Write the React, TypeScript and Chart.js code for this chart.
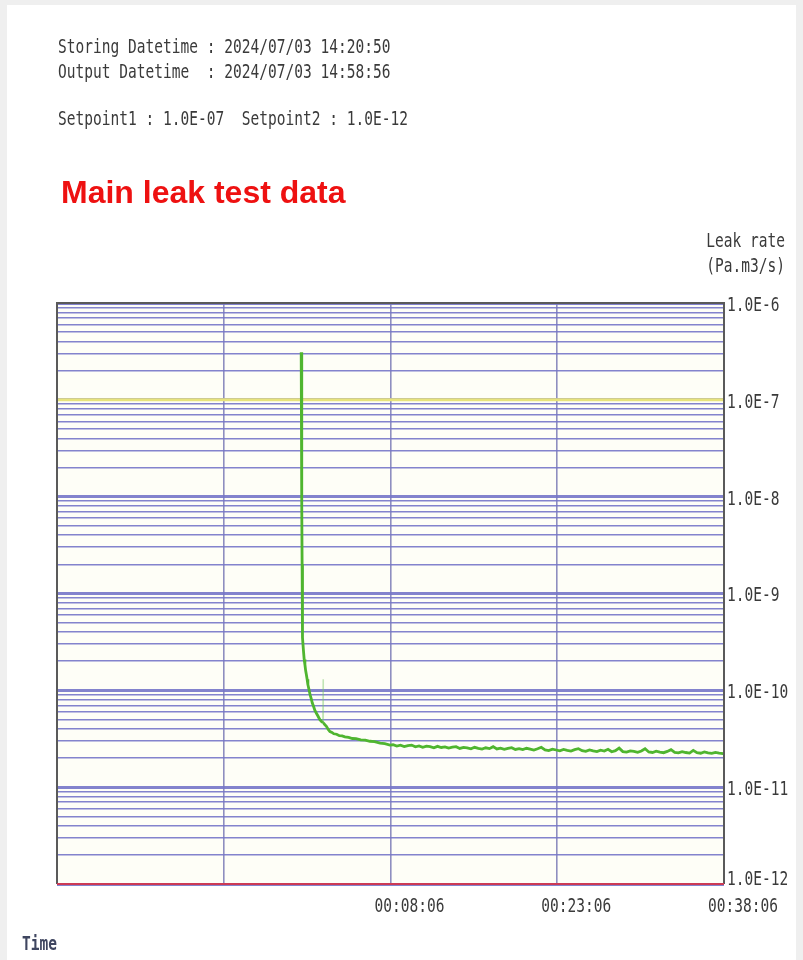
import React, { useEffect, useRef } from "react";
import { Chart, registerables } from "chart.js";

Chart.register(...registerables);

// ---- data ----
const storingDatetime = "2024/07/03 14:20:50";
const outputDatetime = "2024/07/03 14:58:56";
const setpoint1 = 1.0e-7;
const setpoint2 = 1.0e-12;
const setpointLabels = ["1.0E-07", "1.0E-12"];

// x ticks in seconds relative to record start
const xTickValues = [-1314, -414, 486, 1386, 2286];
const xTickLabels = ["", "", "00:08:06", "00:23:06", "00:38:06"];

const yDecades = [-12, -11, -10, -9, -8, -7, -6];
const yTickLabels = ["1.0E-12", "1.0E-11", "1.0E-10", "1.0E-9", "1.0E-8", "1.0E-7", "1.0E-6"];
const yMinorSignificands = [1, 2, 3, 4, 5, 6, 7, 8, 9];

const timeSec = [
  4, 6, 7, 8, 9, 10, 12, 16, 20, 24, 28, 32, 36, 40, 46, 52, 58, 64, 70, 78, 86, 95,
  104, 112, 118, 120, 122, 124, 132, 140, 150, 159, 170, 180, 195, 210, 225, 240, 260,
  280, 300, 325, 350, 375, 400, 430, 455, 483,
  500, 520, 540, 560, 580, 600, 620, 640, 660, 680, 700, 720, 740, 760, 780, 800, 820,
  840, 860, 880, 900, 920, 940, 960, 980, 1000, 1020, 1040, 1060, 1080, 1100, 1120,
  1140, 1160, 1180, 1200, 1220, 1240, 1260, 1280, 1300, 1320, 1340, 1360, 1380, 1400,
  1420, 1440, 1460, 1480, 1500, 1520, 1540, 1560, 1580, 1600, 1620, 1640, 1660, 1680,
  1700, 1720, 1740, 1760, 1780, 1800, 1820, 1840, 1860, 1880, 1900, 1920, 1940, 1960,
  1980, 2000, 2020, 2040, 2060, 2080, 2100, 2120, 2140, 2160, 2180, 2200, 2220, 2240,
  2260, 2280, 2286,
];
const leakRate = [
  3.1e-7, 1.5e-7, 4e-8, 8e-9, 2e-9, 7e-10, 3.5e-10, 2.6e-10, 2.1e-10, 1.85e-10, 1.6e-10,
  1.45e-10, 1.3e-10, 1.15e-10, 1.02e-10, 9.0e-11, 8.2e-11, 7.4e-11, 6.9e-11, 6.2e-11,
  5.8e-11, 5.4e-11, 5.0e-11, 4.8e-11, 4.7e-11, 4.8e-11, 1.3e-10, 4.6e-11, 4.4e-11,
  4.25e-11, 3.95e-11, 3.75e-11, 3.68e-11, 3.56e-11, 3.52e-11, 3.4e-11, 3.39e-11,
  3.31e-11, 3.27e-11, 3.18e-11, 3.17e-11, 3.08e-11, 3.06e-11, 2.98e-11, 2.96e-11,
  2.85e-11, 2.81e-11, 2.72e-11,
  2.74e-11, 2.66e-11, 2.71e-11, 2.63e-11, 2.69e-11, 2.72e-11, 2.61e-11, 2.67e-11,
  2.58e-11, 2.65e-11, 2.62e-11, 2.55e-11, 2.64e-11, 2.57e-11, 2.61e-11, 2.53e-11,
  2.59e-11, 2.62e-11, 2.51e-11, 2.57e-11, 2.54e-11, 2.49e-11, 2.58e-11, 2.52e-11,
  2.47e-11, 2.55e-11, 2.5e-11, 2.62e-11, 2.48e-11, 2.53e-11, 2.46e-11, 2.51e-11,
  2.56e-11, 2.45e-11, 2.5e-11, 2.44e-11, 2.52e-11, 2.47e-11, 2.42e-11, 2.49e-11,
  2.58e-11, 2.43e-11, 2.39e-11, 2.47e-11, 2.42e-11, 2.37e-11, 2.45e-11, 2.4e-11,
  2.36e-11, 2.44e-11, 2.5e-11, 2.38e-11, 2.34e-11, 2.42e-11, 2.37e-11, 2.33e-11,
  2.41e-11, 2.36e-11, 2.46e-11, 2.32e-11, 2.38e-11, 2.53e-11, 2.33e-11, 2.3e-11,
  2.37e-11, 2.34e-11, 2.29e-11, 2.36e-11, 2.49e-11, 2.31e-11, 2.28e-11, 2.35e-11,
  2.3e-11, 2.27e-11, 2.34e-11, 2.44e-11, 2.29e-11, 2.26e-11, 2.33e-11, 2.28e-11,
  2.25e-11, 2.4e-11, 2.27e-11, 2.24e-11, 2.31e-11, 2.26e-11, 2.23e-11, 2.29e-11,
  2.25e-11, 2.22e-11, 2.24e-11,
];
// index of the brief faint spike during the pump-down
const faintSpikeIndex = 26;

const MONO = "'DejaVu Sans Mono', 'Liberation Mono', monospace";
const TEXT_SIZE = 19;
const SQUEEZE = 0.765;
const TEXT_COLOR = "#3a3a3a";
const GRID_PURPLE = "rgba(118,118,200,0.9)";

function isDecade(v: number) {
  const l = Math.log10(v);
  return Math.abs(l - Math.round(l)) < 1e-6;
}

export default function App() {
  const ref = useRef<HTMLCanvasElement | null>(null);

  useEffect(() => {
    document.body.style.margin = "0";
    document.body.style.background = "#efefef";
    if (!ref.current) return;

    const yTicks: { value: number; major: boolean }[] = [];
    yDecades.forEach((e, i) => {
      if (i === yDecades.length - 1) {
        yTicks.push({ value: Math.pow(10, e), major: true });
      } else {
        yMinorSignificands.forEach((s) => {
          yTicks.push({ value: parseFloat(s + "e" + e), major: s === 1 });
        });
      }
    });

    const drawSqueezed = (ctx: any, text: string, x: number, y: number, align: string) => {
      ctx.save();
      ctx.translate(x, y);
      ctx.scale(SQUEEZE, 1);
      ctx.textAlign = align;
      ctx.textBaseline = "middle";
      ctx.fillText(text, 0, 0);
      ctx.restore();
    };

    const framePlugin = {
      id: "frame",
      beforeDraw(chart: any) {
        const { ctx, chartArea: a } = chart;
        ctx.save();
        ctx.fillStyle = "#fefef7";
        ctx.fillRect(a.left, a.top, a.right - a.left, a.bottom - a.top);
        ctx.restore();
      },
      beforeDatasetsDraw(chart: any) {
        const { ctx, chartArea: a, scales } = chart;
        const y1 = scales.y.getPixelForValue(setpoint1);
        ctx.save();
        ctx.strokeStyle = "rgba(236,232,120,0.95)";
        ctx.lineWidth = 3;
        ctx.beginPath();
        ctx.moveTo(a.left, y1);
        ctx.lineTo(a.right, y1);
        ctx.stroke();
        ctx.restore();
      },
      afterDatasetsDraw(chart: any) {
        const { ctx, chartArea: a, scales } = chart;
        ctx.save();
        ctx.strokeStyle = "#5a5a5a";
        ctx.lineWidth = 2;
        ctx.beginPath();
        ctx.moveTo(a.left, a.bottom);
        ctx.lineTo(a.left, a.top);
        ctx.lineTo(a.right, a.top);
        ctx.lineTo(a.right, a.bottom);
        ctx.stroke();
        const y2 = scales.y.getPixelForValue(setpoint2);
        ctx.strokeStyle = "#cc3a55";
        ctx.lineWidth = 2;
        ctx.beginPath();
        ctx.moveTo(a.left, y2);
        ctx.lineTo(a.right, y2);
        ctx.stroke();

        // tick labels (squeezed monospace like the original printout)
        ctx.font = `${TEXT_SIZE}px ${MONO}`;
        ctx.fillStyle = TEXT_COLOR;
        yDecades.forEach((e, i) => {
          const py = scales.y.getPixelForValue(Math.pow(10, e));
          const dy = i === 0 ? -4 : 3;
          drawSqueezed(ctx, yTickLabels[i], a.right + 3, py + dy, "left");
        });
        xTickValues.forEach((v, i) => {
          if (!xTickLabels[i]) return;
          const px = scales.x.getPixelForValue(v);
          drawSqueezed(ctx, xTickLabels[i], px + 19, a.bottom + 23, "center");
        });
        ctx.restore();
      },
    };

    const isFaint = (c: any) =>
      c.p0DataIndex === faintSpikeIndex || c.p1DataIndex === faintSpikeIndex;

    const chart = new Chart(ref.current, {
      type: "line",
      data: {
        datasets: [
          {
            label: "Leak rate",
            data: timeSec.map((t, i) => ({ x: t, y: leakRate[i] })),
            borderColor: "#4fb52f",
            borderWidth: 2.8,
            pointRadius: 0,
            tension: 0,
            fill: false,
            segment: {
              borderColor: (c: any) => (isFaint(c) ? "rgba(120,200,100,0.45)" : undefined),
              borderWidth: (c: any) => (isFaint(c) ? 1.2 : undefined),
            },
          },
        ],
      },
      options: {
        responsive: false,
        animation: false,
        events: [],
        layout: { padding: { left: 57, top: 303, right: 0, bottom: 0 } },
        plugins: { legend: { display: false }, tooltip: { enabled: false } },
        scales: {
          x: {
            type: "linear",
            min: xTickValues[0],
            max: xTickValues[xTickValues.length - 1],
            afterBuildTicks: (s: any) => {
              s.ticks = xTickValues.map((v) => ({ value: v }));
            },
            afterFit: (s: any) => {
              s.height = 960 - 884;
            },
            border: { display: false },
            grid: {
              drawTicks: false,
              color: "rgba(130,130,185,0.9)",
              lineWidth: 1.6,
            },
            ticks: { display: false },
          },
          y: {
            type: "logarithmic",
            position: "right",
            min: Math.pow(10, yDecades[0]),
            max: Math.pow(10, yDecades[yDecades.length - 1]),
            afterBuildTicks: (s: any) => {
              s.ticks = yTicks.map((t) => ({ ...t }));
            },
            afterFit: (s: any) => {
              s.width = 803 - 724;
            },
            border: { display: false },
            grid: {
              drawTicks: false,
              color: GRID_PURPLE,
              lineWidth: (c: any) => (c.tick && isDecade(c.tick.value) ? 3 : 1.6),
            },
            ticks: { display: false },
          },
        },
      },
      plugins: [framePlugin],
    } as any);

    return () => chart.destroy();
  }, []);

  const txt: React.CSSProperties = {
    position: "absolute",
    fontFamily: MONO,
    fontSize: TEXT_SIZE,
    lineHeight: "20px",
    color: TEXT_COLOR,
    whiteSpace: "pre",
    transform: `scaleX(${SQUEEZE})`,
    transformOrigin: "left center",
  };
  const txtR: React.CSSProperties = { ...txt, transformOrigin: "right center", textAlign: "right" };

  return (
    <div style={{ position: "relative", width: 803, height: 960, overflow: "hidden" }}>
      <div style={{ position: "absolute", left: 7, top: 5, width: 789, height: 955, background: "#ffffff" }} />
      <canvas ref={ref} width={803} height={960} style={{ position: "absolute", left: 0, top: 0 }} />
      <div style={{ ...txt, left: 58, top: 36 }}>{"Storing Datetime : " + storingDatetime}</div>
      <div style={{ ...txt, left: 58, top: 61 }}>{"Output Datetime  : " + outputDatetime}</div>
      <div style={{ ...txt, left: 58, top: 108 }}>
        {"Setpoint1 : " + setpointLabels[0] + "  Setpoint2 : " + setpointLabels[1]}
      </div>
      <div
        style={{
          position: "absolute",
          left: 61,
          top: 173,
          fontFamily: "'Liberation Sans', Arial, sans-serif",
          fontWeight: "bold",
          fontSize: 32,
          lineHeight: "38px",
          color: "#ee1111",
          whiteSpace: "pre",
        }}
      >
        Main leak test data
      </div>
      <div style={{ ...txtR, right: 18, top: 230 }}>Leak rate</div>
      <div style={{ ...txtR, right: 18, top: 255 }}>(Pa.m3/s)</div>
      <div style={{ ...txt, left: 22, top: 933, fontWeight: "bold", color: "#3f4660" }}>Time</div>
    </div>
  );
}
